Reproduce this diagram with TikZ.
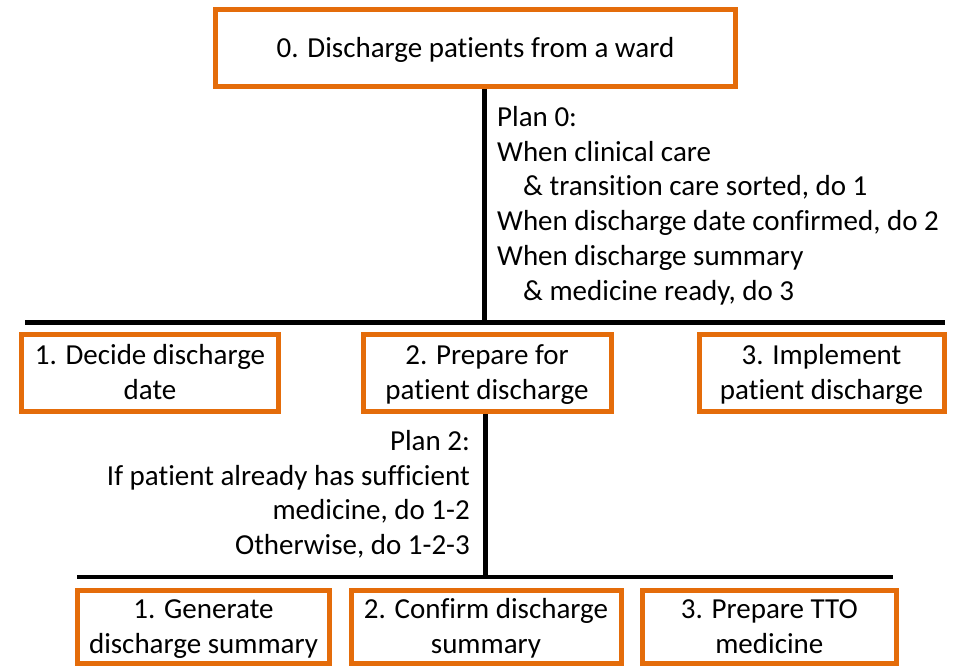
\documentclass[tikz,border=0pt]{standalone}
\usepackage{fontspec}
\setmainfont{Carlito}[Ligatures=NoCommon]
\definecolor{boxorange}{RGB}{228,108,10}
% strut giving every box line the same height and depth
\newcommand{\bxs}{\rule[-5.4pt]{0pt}{29.4pt}}
\tikzset{
  task/.style={draw=boxorange, line width=5pt, fill=white, inner sep=0pt,
    align=center, font=\fontsize{29}{34.8}\selectfont},
  plantext/.style={inner sep=0pt, font=\fontsize{29}{34.8}\selectfont},
  bar/.style={draw=black, line width=4.8pt}
}
\begin{document}
\begin{tikzpicture}[x=1pt, y=-1pt]
\useasboundingbox (0,0) rectangle (953,666);

% level 0
\node[task, minimum width=520pt, minimum height=77pt] (t0) at (475.5,48)
  {\bxs 0. Discharge patients from a ward};

% bar under level 0
\coordinate (b1l) at (25,322.5);
\coordinate (b1r) at (945,322.5);
\coordinate (j1) at (484.5,322.5);
\draw[bar] (b1l) -- (b1r);
\draw[bar] (j1 |- t0.south) -- (j1);

\node[plantext, align=left, anchor=north west] (plan0) at (497,102)
  {\bxs Plan 0:\\
   \bxs When clinical care\\
   \bxs\hspace*{26pt}\& transition care sorted, do 1\\
   \bxs When discharge date confirmed, do 2\\
   \bxs When discharge summary\\
   \bxs\hspace*{26pt}\& medicine ready, do 3};

% level 1
\node[task, minimum width=256.4pt, minimum height=77.3pt] (t1) at (150,373)
  {\bxs 1. Decide discharge\\\bxs date};
\node[task, minimum width=248pt, minimum height=77.3pt] (t2) at (487,373)
  {\bxs 2. Prepare for\\\bxs patient discharge};
\node[task, minimum width=245pt, minimum height=77.3pt] (t3) at (821.5,373)
  {\bxs 3. Implement\\\bxs patient discharge};

% bar under task 2
\coordinate (b2l) at (77,577);
\coordinate (b2r) at (893,577);
\coordinate (j2) at (485.5,577);
\draw[bar] (b2l) -- (b2r);
\draw[bar] (j2 |- t2.south) -- (j2);

\node[plantext, align=right, anchor=north east] (plan2) at (470,426)
  {\bxs Plan 2:\\
   \bxs If patient already has sufficient\\
   \bxs medicine, do 1-2\\
   \bxs Otherwise, do 1-2-3};

% level 2
\node[task, minimum width=252pt, minimum height=73.5pt] (t21) at (203.5,627)
  {\bxs 1. Generate\\\bxs discharge summary};
\node[task, minimum width=270pt, minimum height=73.5pt] (t22) at (486,627)
  {\bxs 2. Confirm discharge\\\bxs summary};
\node[task, minimum width=253.5pt, minimum height=73.5pt] (t23) at (769.3,627)
  {\bxs 3. Prepare TTO\\\bxs medicine};
\end{tikzpicture}
\end{document}
